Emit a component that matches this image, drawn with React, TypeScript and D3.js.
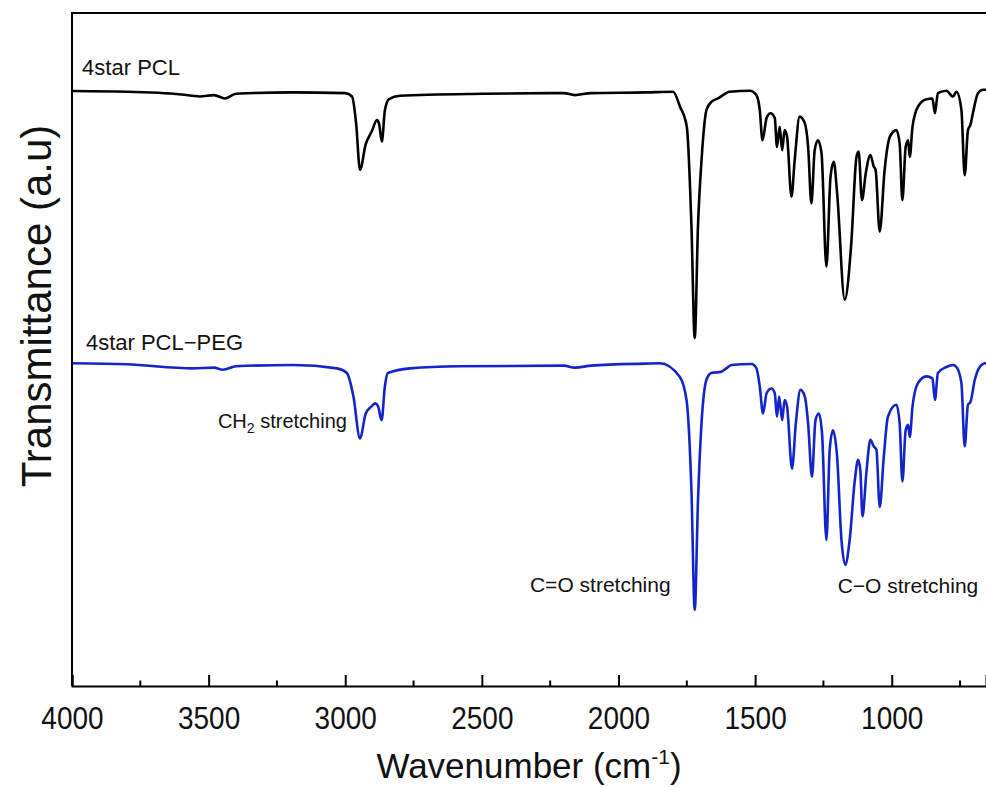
import React, { useEffect, useRef } from 'react';
import * as d3 from 'd3';

// wavenumber (cm-1) and transmittance (a.u.)
const pclWavenumber = [
  4000, 3800, 3600, 3532, 3480, 3440, 3400, 3200, 3000, 2975, 2960, 2946, 2925, 2902, 2884, 2876, 2866, 2855, 2840,
  2800, 2500, 2200, 2160, 2100, 1900, 1800, 1775, 1750, 1733, 1721, 1709, 1696, 1678, 1660, 1636, 1593, 1519,
  1495, 1483, 1473, 1458, 1444, 1428, 1420, 1410, 1401, 1392, 1383, 1367, 1355, 1337, 1318, 1306, 1294, 1282,
  1270, 1257, 1239, 1224, 1212, 1200, 1172, 1148, 1129, 1121, 1109, 1095, 1078, 1066, 1059, 1044, 1026, 1007,
  983, 971, 961, 949, 940, 934, 924, 904, 873, 851, 842, 831, 800, 776, 763, 745, 733, 721, 712, 703, 684, 666, 655
];
const pclValue = [
  88.4, 88.3, 87.9, 87.6, 87.8, 87.3, 88.0, 88.2, 88.1, 87.6, 83.5, 76.7, 80.5, 82.5, 84.1, 83.5, 80.9, 85.5, 87.2,
  87.7, 88.0, 88.1, 87.8, 88.1, 88.2, 88.3, 86.1, 83.1, 68.4, 51.7, 68.4, 78.2, 85.6, 86.8, 87.3, 88.3, 88.45,
  87.8, 85.6, 81.1, 84.4, 85.1, 84.4, 80.1, 83.1, 79.6, 82.6, 81.6, 72.7, 78.2, 84.6, 83.6, 80.1, 71.7, 79.6,
  81.1, 79.2, 62.3, 75.7, 77.9, 73.3, 57.4, 65.8, 78.6, 79.4, 72.2, 76.2, 78.9, 77.2, 76.7, 67.5, 76.7, 81.6,
  82.6, 80.6, 72.2, 80.1, 81.1, 78.6, 83.1, 86.1, 87.2, 87.3, 85.1, 88.1, 88.45, 87.6, 88.3, 85.6, 75.9, 82.6, 83.4, 85.1, 88.1, 88.6, 88.6
];

const pegWavenumber = [
  4000, 3800, 3557, 3480, 3448, 3400, 3191, 3030, 2994, 2970, 2946, 2925, 2905, 2891, 2880, 2867, 2855, 2844,
  2763, 2580, 2200, 2160, 2100, 1900, 1849, 1776, 1751, 1733, 1721, 1709, 1696, 1678, 1660, 1623, 1605, 1587,
  1513, 1495, 1483, 1471, 1458, 1440, 1428, 1420, 1412, 1401, 1392, 1383, 1365, 1351, 1334, 1318, 1306, 1292,
  1279, 1267, 1255, 1239, 1227, 1215, 1200, 1184, 1170, 1154, 1135, 1123, 1115, 1107, 1093, 1078, 1066, 1056,
  1044, 1029, 1014, 983, 971, 961, 949, 940, 934, 924, 904, 873, 851, 842, 831, 800, 776, 763, 745, 733, 721,
  712, 696, 678, 660, 655
];
const pegValue = [
  47.95, 47.8, 47.2, 47.3, 47.0, 47.5, 47.7, 47.2, 46.5, 43.0, 36.8, 40.5, 41.5, 42.0, 41.6, 39.5, 44.5, 46.5,
  47.2, 47.5, 47.6, 47.3, 47.6, 47.9, 47.95, 45.96, 42.5, 29.1, 11.3, 27.6, 39.1, 45.5, 46.5, 46.7, 47.2, 47.7,
  47.85, 47.2, 44.5, 40.5, 43.5, 44.2, 43.5, 40.0, 43.0, 39.5, 42.5, 41.5, 32.3, 39.0, 44.0, 43.0, 39.0, 31.1,
  39.5, 40.5, 37.5, 21.7, 35.1, 38.0, 34.1, 21.7, 18.0, 21.7, 30.6, 33.6, 32.1, 25.2, 31.6, 36.6, 35.6, 35.1,
  26.6, 34.1, 40.0, 41.8, 39.0, 30.4, 38.0, 38.8, 37.0, 41.5, 45.0, 46.0, 45.7, 42.5, 46.5, 47.4, 47.7, 47.4,
  45.0, 35.6, 41.8, 42.2, 45.5, 47.4, 47.95, 48.0
];

const majorTicks = [4000, 3500, 3000, 2500, 2000, 1500, 1000];
const minorTicks = [3750, 3250, 2750, 2250, 1750, 1250, 750];

const App = () => {
  const svgRef = useRef(null);
  const width = 986;
  const height = 787;

  useEffect(() => {
    const svg = d3.select(svgRef.current);
    svg.selectAll('*').remove();

    const left = 72, top = 13, bottom = 686, right = 986;
    const font = 'Arial, "Liberation Sans", sans-serif';

    const x = d3.scaleLinear().domain([4000, 655]).range([left, right]);
    const y = d3.scaleLinear().domain([0, 100]).range([bottom, top]);

    const line = d3.line<[number, number]>()
      .x(d => x(d[0]))
      .y(d => y(d[1]))
      .curve(d3.curveMonotoneX);

    const g = svg.append('g');

    g.append('path')
      .datum(d3.zip(pclWavenumber, pclValue) as [number, number][])
      .attr('fill', 'none')
      .attr('stroke', '#000')
      .attr('stroke-width', 2.6)
      .attr('stroke-linejoin', 'round')
      .attr('d', line);

    g.append('path')
      .datum(d3.zip(pegWavenumber, pegValue) as [number, number][])
      .attr('fill', 'none')
      .attr('stroke', '#1424c8')
      .attr('stroke-width', 2.6)
      .attr('stroke-linejoin', 'round')
      .attr('d', line);

    // frame: left and top lines only (right side is cut off)
    svg.append('path')
      .attr('d', `M${left},${bottom}V${top}H${right}`)
      .attr('fill', 'none')
      .attr('stroke', '#000')
      .attr('stroke-width', 2);

    // bottom axis, ticks pointing inward
    const xAxis = svg.append('g').attr('transform', `translate(0,${bottom})`);
    xAxis.call(
      d3.axisBottom(x).tickValues(majorTicks).tickSize(-11).tickPadding(0).tickFormat(d3.format('d'))
    );
    xAxis.select('.domain').attr('stroke-width', 2);
    xAxis.selectAll('.tick line').attr('stroke-width', 2);
    xAxis.selectAll('.tick text').remove();
    xAxis.selectAll('.tick')
      .append('text')
      .attr('fill', '#111')
      .attr('font-family', font)
      .attr('font-size', 28)
      .attr('text-anchor', 'middle')
      .attr('transform', 'translate(0,43) scale(1,1.15)')
      .text(d => String(d));

    svg.append('g')
      .attr('transform', `translate(0,${bottom})`)
      .selectAll('line')
      .data(minorTicks)
      .enter()
      .append('line')
      .attr('x1', d => x(d))
      .attr('x2', d => x(d))
      .attr('y1', 0)
      .attr('y2', -5.5)
      .attr('stroke', '#000')
      .attr('stroke-width', 2);

    // axis titles
    const xt = svg.append('text')
      .attr('x', 529)
      .attr('y', 778)
      .attr('text-anchor', 'middle')
      .attr('font-family', font)
      .attr('font-size', 35)
      .attr('fill', '#111');
    xt.append('tspan').text('Wavenumber (cm');
    xt.append('tspan').attr('font-size', 21).attr('dy', -14).text('-1');
    xt.append('tspan').attr('dy', 14).text(')');

    svg.append('text')
      .attr('transform', 'translate(51,306) rotate(-90)')
      .attr('text-anchor', 'middle')
      .attr('font-family', font)
      .attr('font-size', 42)
      .attr('fill', '#111')
      .text('Transmittance (a.u)');

    // series labels and band annotations
    const labelStyle = (t: any, size = 21) => t
      .attr('font-family', font)
      .attr('font-size', size)
      .attr('fill', '#111');

    labelStyle(svg.append('text').attr('x', x(3963)).attr('y', y(90.8)), 22).text('4star PCL');
    labelStyle(svg.append('text').attr('x', x(3949)).attr('y', y(49.9)), 22).text('4star PCL\u2212PEG');

    const ch = labelStyle(svg.append('text').attr('x', x(2994)).attr('y', y(38.3)).attr('text-anchor', 'end'), 20);
    ch.append('tspan').text('CH');
    ch.append('tspan').attr('font-size', 14).attr('dy', 5).text('2');
    ch.append('tspan').attr('dy', -5).text(' stretching');

    labelStyle(svg.append('text').attr('x', x(2324)).attr('y', y(14.0))).text('C=O stretching');
    labelStyle(svg.append('text').attr('x', x(1198)).attr('y', y(13.8))).text('C\u2212O stretching');
  }, []);

  return (
    <div style={{ position: 'absolute', left: 0, top: 0 }}>
      <svg ref={svgRef} width={width} height={height} style={{ display: 'block', background: '#fff' }}></svg>
    </div>
  );
};

export default App;
